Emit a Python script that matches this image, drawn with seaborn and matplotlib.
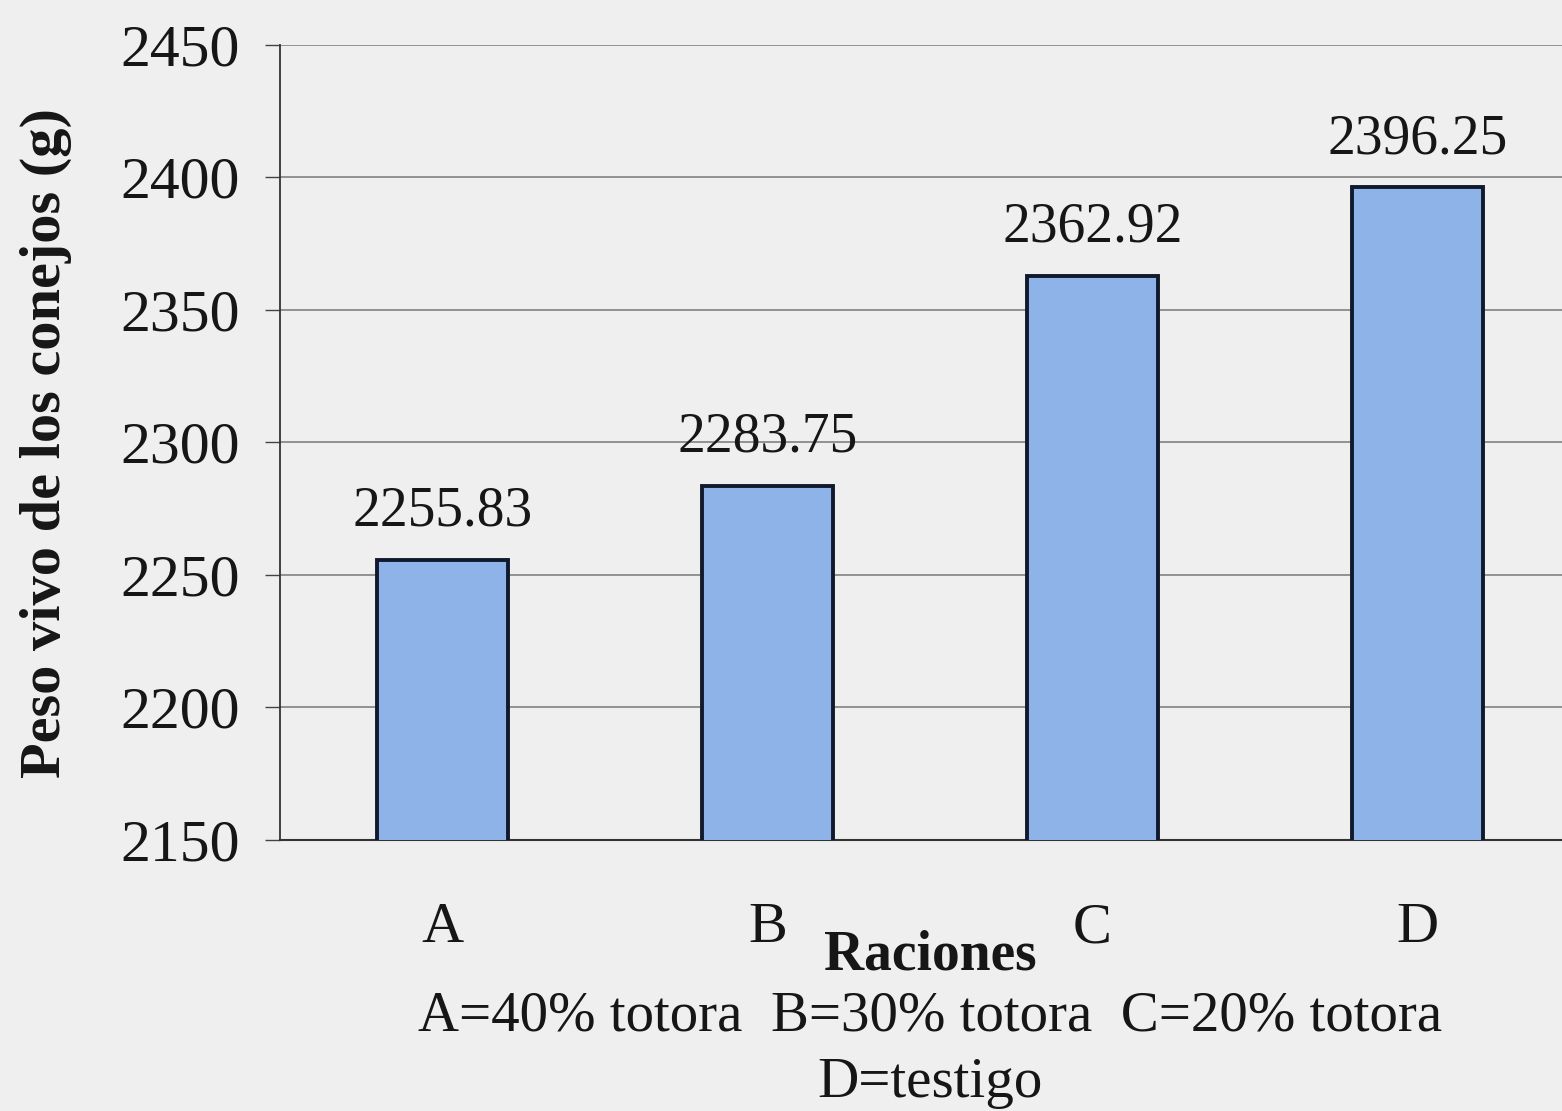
import matplotlib
matplotlib.use("Agg")
import matplotlib.pyplot as plt
import seaborn as sns
import pandas as pd

# data
raciones = ["A", "B", "C", "D"]
peso = [2255.83, 2283.75, 2362.92, 2396.25]
peso_labels = ["2255.83", "2283.75", "2362.92", "2396.25"]
y_ticks = [2150, 2200, 2250, 2300, 2350, 2400, 2450]

sns.set_style("white")
plt.rcParams["font.family"] = ["Liberation Serif", "DejaVu Serif"]

bg = "#efeff0"
ink = "#161616"

fig = plt.figure(figsize=(15.62, 11.11), dpi=100, facecolor=bg)
# axes run a little past the right edge, like the cropped scan
ax = fig.add_axes([280 / 1562, 1 - 840 / 1111, 1300 / 1562, 795 / 1111])
ax.set_facecolor(bg)

df = pd.DataFrame({"Raciones": raciones, "Peso": peso})
sns.barplot(data=df, x="Raciones", y="Peso", color="#8db3e8", saturation=1,
            width=0.405, edgecolor="#111a2c", linewidth=2.8, ax=ax, zorder=3)

ax.set_ylim(2150, 2450)
ax.set_xlim(-0.5, 3.5)
ax.set_yticks(y_ticks)
ax.yaxis.grid(True, color="#8a8a8a", linewidth=1.3, zorder=0)
ax.set_axisbelow(True)

for s in ["top", "right"]:
    ax.spines[s].set_visible(False)
ax.spines["left"].set_color("#333333")
ax.spines["left"].set_linewidth(1.3)
ax.spines["bottom"].set_color("#333333")
ax.spines["bottom"].set_linewidth(1.5)

# tick labels at the bars, tick marks between categories
ax.set_xticks(range(len(raciones)))
ax.set_xticklabels(raciones)
ax.set_xticks([-0.5, 0.5, 1.5, 2.5, 3.5], minor=True)
ax.tick_params(axis="x", which="major", length=0, pad=45, labelsize=42, labelcolor=ink)
ax.tick_params(axis="x", which="minor", length=11, width=1.0, color="#444444", direction="out")
ax.tick_params(axis="y", length=11, width=1.0, color="#444444", direction="out",
               pad=18, labelsize=43, labelcolor=ink, left=True)

for cont in ax.containers:
    ax.bar_label(cont, labels=peso_labels, padding=16, fontsize=40, color=ink)

ax.set_ylabel("Peso vivo de los conejos (g)", fontsize=42, fontweight="bold", color=ink)
ax.yaxis.set_label_coords(-0.16, 0.5)
ax.set_xlabel("Raciones", fontsize=40, fontweight="bold", color=ink)
ax.xaxis.set_label_coords(0.5, -0.113)

ax.text(0.5, -0.2226, "A=40% totora  B=30% totora  C=20% totora", transform=ax.transAxes,
        ha="center", va="center", fontsize=41, color=ink)
ax.text(0.5, -0.3057, "D=testigo", transform=ax.transAxes,
        ha="center", va="center", fontsize=41, color=ink)

fig.savefig("out.png", dpi=100, facecolor=bg)
